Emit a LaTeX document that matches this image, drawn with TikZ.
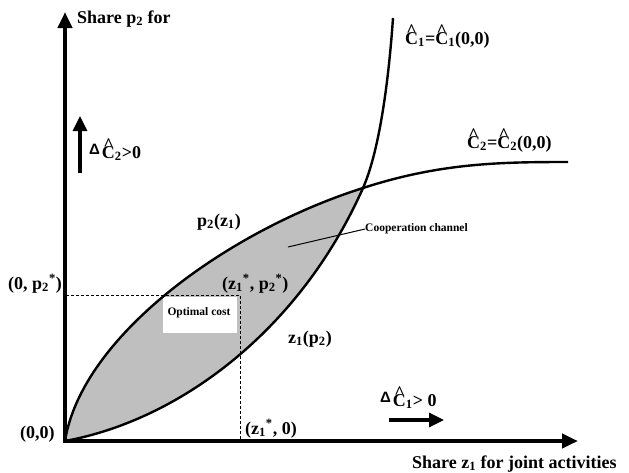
\documentclass[tikz,border=0pt]{standalone}
\usepackage{fontspec}
\setmainfont{Liberation Serif}
\newfontfamily\deltafont{Liberation Sans}
\usetikzlibrary{arrows.meta}
\newcommand\Chat{\ooalign{C\cr\hidewidth\raisebox{0.42em}{\textasciicircum}\hidewidth\cr}}
\newcommand\dlt{\raisebox{4pt}{\deltafont\fontsize{15}{15}\selectfont Δ}\kern2pt}
\tikzset{
  axisline/.style={line width=4pt,-{Triangle[length=16pt,width=14pt]}},
  curveline/.style={line width=2.4pt},
  lbl/.style={font=\fontsize{18}{20}\selectfont\bfseries, inner sep=0pt, anchor=base west},
  smalllbl/.style={font=\fontsize{11.5}{13}\selectfont\bfseries, inner sep=0pt},
  guide/.style={line width=1pt, dash pattern=on 3pt off 2pt},
  hintarrow/.style={line width=3.2pt,-{Triangle[length=15pt,width=14pt]}},
  region/.style={fill=black!25}
}
\begin{document}
\begin{tikzpicture}[x=1pt,y=-1pt]
\useasboundingbox (0,0) rectangle (629,472);
\coordinate (orig) at (65,441);
\coordinate (cross) at (363,188);
\coordinate (c2end) at (568,162);
\coordinate (c1end) at (393,18);
% shaded cooperation region
\path[region] (orig) .. controls (82,335) and (230,230) .. (cross)
  .. controls (300,330) and (180,420) .. (orig) -- cycle;
% optimal cost box
\fill[white] (163,297) rectangle (237,333);
\node[smalllbl] (opt) at (199,313) {Optimal cost};
% dashed guides
\coordinate (dp) at (66,295);
\coordinate (dz) at (240,441);
\coordinate (star) at (240,295);
\draw[guide] (dp) -- (star) -- (dz);
% curves
\draw[curveline] (orig) .. controls (82,335) and (230,230) .. (cross)
  .. controls (440,163) and (500,162) .. (c2end);
\draw[curveline] (orig) .. controls (180,420) and (300,330) .. (cross)
  .. controls (378,154) and (388,90) .. (c1end);
% axes
\coordinate (o) at (65,443);
\coordinate (ytop) at (65,12);
\coordinate (xstart) at (63,441);
\coordinate (xend) at (578,441);
\draw[axisline] (xstart) -- (xend);
\draw[axisline] (o) -- (ytop);
% axis labels
\node[lbl] (ylab) at (77,23) {Share p\textsubscript{2} for};
\node[lbl] (xlab) at (412,468) {Share z\textsubscript{1} for joint activities};
% direction hints
\coordinate (h2a) at (80,173);
\coordinate (h2b) at (80,116);
\draw[hintarrow] (h2a) -- (h2b);
\node[lbl] (d2) at (89,158) {\dlt\Chat\textsubscript{2}>0};
\coordinate (h1a) at (389,420);
\coordinate (h1b) at (444,420);
\draw[hintarrow] (h1a) -- (h1b);
\node[lbl] (d1) at (380,406) {\dlt\Chat\textsubscript{1}> 0};
% curve labels
\node[lbl] (c1) at (405,44) {\Chat\textsubscript{1}=\Chat\textsubscript{1}(0,0)};
\node[lbl] (c2) at (467,148) {\Chat\textsubscript{2}=\Chat\textsubscript{2}(0,0)};
\node[lbl] (pz) at (197,226) {p\textsubscript{2}(z\textsubscript{1})};
\node[lbl] (zp) at (288,343) {z\textsubscript{1}(p\textsubscript{2})};
\node[lbl] (zs) at (222,289) {(z\textsubscript{1}\textsuperscript{*}, p\textsubscript{2}\textsuperscript{*})};
\node[lbl] (p0) at (8,289) {(0, p\textsubscript{2}\textsuperscript{*})};
\node[lbl] (oo) at (20,438) {(0,0)};
\node[lbl] (z0) at (245,434) {(z\textsubscript{1}\textsuperscript{*}, 0)};
% cooperation channel
\node[smalllbl, anchor=west] (coop) at (365,229) {Cooperation channel};
\coordinate (cin) at (288,247);
\draw[line width=1pt] (cin) -- (coop.west);
\end{tikzpicture}
\end{document}
